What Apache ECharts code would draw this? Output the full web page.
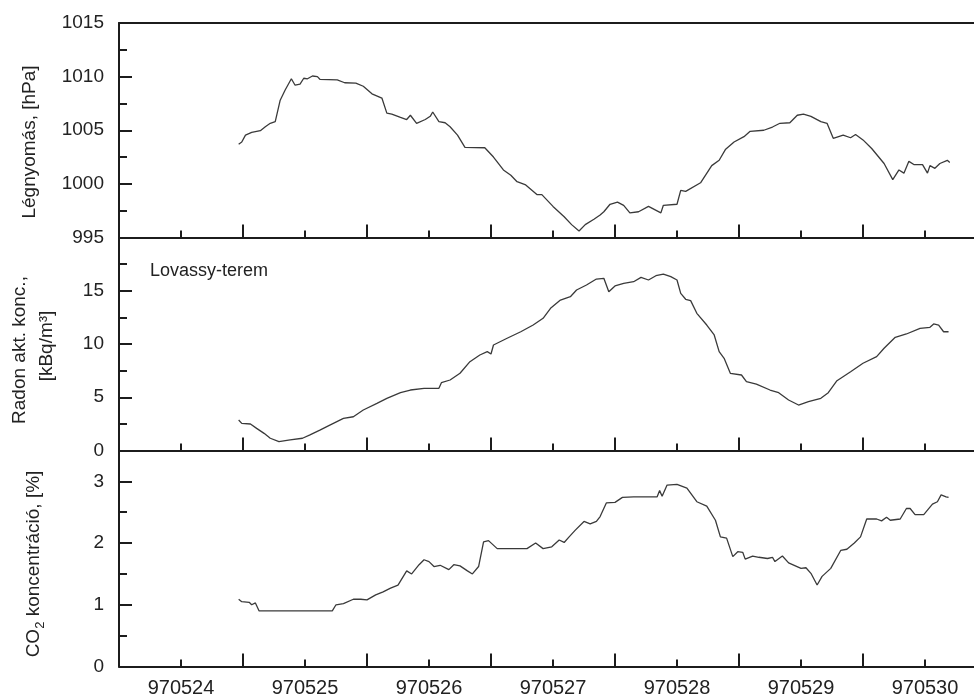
<!DOCTYPE html>
<html><head><meta charset="utf-8">
<script src="https://cdn.jsdelivr.net/npm/echarts@6/dist/echarts.min.js"></script>
<style>html,body{margin:0;padding:0;background:#fff}#c{width:974px;height:698px}</style>
</head><body><div id="c"></div>
<script>
// x values: day of May 1997 (label 9705dd centred at dd + 0.5)
const dayLabels = ['970524','970525','970526','970527','970528','970529','970530'];

const pTime = [24.965,24.99,25.02,25.07,25.14,25.18,25.22,25.26,25.30,25.34,25.39,25.42,25.46,25.49,25.52,25.56,25.60,25.62,25.76,25.82,25.91,25.97,26.04,26.12,26.16,26.20,26.27,26.32,26.35,26.40,26.47,26.51,26.53,26.58,26.63,26.67,26.73,26.79,26.95,27.02,27.10,27.16,27.21,27.28,27.37,27.41,27.50,27.59,27.65,27.71,27.76,27.83,27.88,27.91,27.96,28.02,28.07,28.12,28.19,28.27,28.37,28.39,28.50,28.53,28.57,28.69,28.78,28.84,28.89,28.96,29.04,29.09,29.20,29.27,29.33,29.41,29.47,29.52,29.58,29.66,29.71,29.76,29.84,29.90,29.94,30.00,30.07,30.17,30.24,30.29,30.33,30.37,30.41,30.48,30.52,30.54,30.58,30.62,30.68,30.70];
const pressure = [1003.7,1003.9,1004.55,1004.8,1004.96,1005.33,1005.65,1005.8,1007.8,1008.75,1009.8,1009.2,1009.3,1009.85,1009.8,1010.06,1010.0,1009.75,1009.7,1009.43,1009.4,1009.1,1008.4,1008.0,1006.6,1006.5,1006.2,1006.0,1006.4,1005.65,1006.0,1006.3,1006.7,1005.8,1005.7,1005.33,1004.55,1003.4,1003.37,1002.5,1001.3,1000.8,1000.2,999.9,999.0,999.0,997.9,996.94,996.2,995.6,996.2,996.7,997.1,997.4,998.1,998.3,998.0,997.3,997.4,997.9,997.3,998.0,998.1,999.4,999.3,1000.1,1001.7,1002.2,1003.2,1003.9,1004.4,1004.9,1005.0,1005.3,1005.65,1005.7,1006.4,1006.5,1006.3,1005.8,1005.65,1004.25,1004.55,1004.3,1004.6,1004.1,1003.3,1001.9,1000.4,1001.3,1001.0,1002.1,1001.8,1001.8,1001.0,1001.7,1001.45,1001.9,1002.2,1002.0];

const rTime = [24.965,24.99,25.06,25.11,25.17,25.22,25.29,25.38,25.48,25.54,25.62,25.70,25.81,25.89,25.97,26.08,26.16,26.27,26.35,26.46,26.58,26.60,26.67,26.75,26.83,26.91,26.97,27.00,27.02,27.13,27.24,27.34,27.42,27.48,27.56,27.64,27.69,27.77,27.85,27.91,27.95,28.00,28.07,28.15,28.21,28.27,28.33,28.39,28.45,28.50,28.53,28.57,28.61,28.66,28.74,28.80,28.84,28.88,28.93,29.02,29.06,29.14,29.25,29.32,29.40,29.48,29.56,29.66,29.72,29.79,29.90,30.00,30.11,30.17,30.26,30.35,30.46,30.54,30.57,30.61,30.65,30.69];
const radon = [2.86,2.55,2.49,2.08,1.61,1.15,0.83,0.99,1.15,1.46,1.92,2.39,3.02,3.17,3.80,4.43,4.90,5.43,5.68,5.84,5.84,6.37,6.62,7.25,8.34,8.97,9.28,9.06,9.91,10.54,11.15,11.78,12.41,13.35,14.13,14.44,15.07,15.54,16.1,16.17,14.91,15.45,15.70,15.85,16.26,16.01,16.41,16.57,16.32,16.01,14.76,14.20,14.07,12.88,11.78,10.85,9.28,8.66,7.25,7.09,6.46,6.24,5.68,5.43,4.74,4.27,4.58,4.90,5.43,6.55,7.40,8.19,8.81,9.60,10.63,10.94,11.47,11.57,11.88,11.78,11.15,11.15];

const cTime = [24.965,24.99,25.05,25.07,25.10,25.13,25.72,25.75,25.81,25.89,25.95,26.00,26.07,26.13,26.19,26.25,26.32,26.36,26.42,26.46,26.50,26.54,26.59,26.66,26.70,26.75,26.81,26.85,26.90,26.94,26.98,27.05,27.29,27.36,27.42,27.49,27.55,27.59,27.63,27.68,27.75,27.80,27.85,27.88,27.93,28.00,28.06,28.15,28.34,28.36,28.38,28.42,28.50,28.58,28.66,28.74,28.81,28.85,28.90,28.95,28.99,29.03,29.05,29.11,29.16,29.23,29.27,29.29,29.35,29.40,29.50,29.54,29.58,29.63,29.67,29.74,29.82,29.87,29.93,29.98,30.03,30.11,30.15,30.19,30.22,30.30,30.35,30.38,30.42,30.49,30.56,30.60,30.63,30.67,30.69];
const co2 = [1.09,1.05,1.04,1.00,1.03,0.90,0.90,1.00,1.02,1.09,1.09,1.08,1.16,1.21,1.27,1.32,1.55,1.50,1.65,1.73,1.70,1.62,1.64,1.57,1.65,1.63,1.55,1.50,1.62,2.02,2.04,1.91,1.91,2.00,1.91,1.94,2.05,2.01,2.10,2.21,2.35,2.31,2.35,2.43,2.65,2.66,2.74,2.75,2.75,2.85,2.76,2.94,2.95,2.89,2.67,2.60,2.37,2.10,2.08,1.78,1.86,1.85,1.74,1.79,1.77,1.75,1.77,1.70,1.79,1.68,1.59,1.60,1.51,1.32,1.46,1.59,1.88,1.90,2.00,2.10,2.39,2.39,2.36,2.42,2.37,2.39,2.56,2.56,2.46,2.46,2.63,2.67,2.78,2.75,2.74];

const pressureTicks = {min: 995, max: 1015, step: 5};
const radonTicks = {min: 0, max: 20, step: 5};
const co2Ticks = {min: 0, max: 3.5, step: 1, minorStep: 0.5};

const zip = (xs, ys) => xs.map((x, i) => [x, ys[i]]);
const FONT = 'Liberation Sans, Arial, sans-serif';
const INK = '#1c1c1c';
const TXT = '#222';

const grids = [
  {left: 119, right: -13, top: 23, height: 214.5},
  {left: 119, right: -13, top: 237.5, height: 213},
  {left: 119, right: -13, top: 450.5, height: 216}
].map(g => Object.assign(g, {containLabel: false, outerBoundsMode: 'none'}));

function tickX(gridIndex) {
  return {
    type: 'value', gridIndex, position: 'bottom', min: 24, max: 31, interval: 1,
    axisLine: {show: true, onZero: false, lineStyle: {color: INK, width: 2}},
    axisTick: {show: true, inside: true, length: 13, lineStyle: {color: INK, width: 2}},
    minorTick: {show: true, splitNumber: 2, length: 7, lineStyle: {color: INK, width: 2}},
    axisLabel: {show: false}, splitLine: {show: false}
  };
}

const xAxes = [
  tickX(0),
  {type: 'value', gridIndex: 0, position: 'top', min: 24, max: 31,
   axisLine: {show: true, onZero: false, lineStyle: {color: INK, width: 2}},
   axisTick: {show: false}, axisLabel: {show: false}, splitLine: {show: false}},
  tickX(1),
  tickX(2),
  {type: 'value', gridIndex: 2, position: 'bottom', min: 24, max: 31, interval: 0.5,
   axisLine: {show: false, onZero: false}, axisTick: {show: false}, splitLine: {show: false},
   axisLabel: {show: true, margin: 12, color: TXT, fontFamily: FONT, fontSize: 20,
     formatter: v => (Math.abs(v % 1 - 0.5) < 1e-6) ? (dayLabels[Math.floor(v) - 24] || '') : ''}}
];

function yAx(gridIndex, t, fmt, minor) {
  return {
    type: 'value', gridIndex, position: 'left', min: t.min, max: t.max, interval: t.step,
    axisLine: {show: true, onZero: false, lineStyle: {color: INK, width: 2}},
    axisTick: {show: true, inside: true, length: 13, lineStyle: {color: INK, width: 2}},
    minorTick: {show: minor, splitNumber: 2, length: 8, lineStyle: {color: INK, width: 2}},
    splitLine: {show: false},
    axisLabel: {show: true, margin: 15, color: TXT, fontFamily: FONT, fontSize: 19,
      padding: [0, 0, 5, 0], formatter: fmt}
  };
}

const yAxes = [
  yAx(0, pressureTicks, v => String(v), true),
  yAx(1, radonTicks, v => (v === radonTicks.max ? '' : String(v)), true),
  yAx(2, co2Ticks, v => (Math.abs(v % 1) < 1e-6 ? String(v) : ''), false),
  {type: 'value', gridIndex: 2, position: 'left', min: co2Ticks.min, max: co2Ticks.max, interval: co2Ticks.minorStep,
   axisLine: {show: false, onZero: false},
   axisTick: {show: true, inside: true, length: 8, lineStyle: {color: INK, width: 2}},
   axisLabel: {show: false}, splitLine: {show: false}}
];

const lineStyle = {color: '#3a3a3a', width: 1.3};
const series = [
  {type: 'line', xAxisIndex: 0, yAxisIndex: 0, data: zip(pTime, pressure)},
  {type: 'line', xAxisIndex: 2, yAxisIndex: 1, data: zip(rTime, radon)},
  {type: 'line', xAxisIndex: 3, yAxisIndex: 2, data: zip(cTime, co2)}
].map(s => Object.assign(s, {showSymbol: false, symbol: 'none', lineStyle, silent: true, animation: false}));

const tStyle = (text, extra) => Object.assign({text, font: '19px ' + FONT, fill: TXT, align: 'center', verticalAlign: 'middle'}, extra || {});
const graphic = [
  {type: 'text', x: 30, y: 142, rotation: Math.PI / 2, style: tStyle('Légnyomás, [hPa]')},
  {type: 'text', x: 20, y: 350, rotation: Math.PI / 2, style: tStyle('Radon akt. konc.,')},
  {type: 'text', x: 47, y: 346, rotation: Math.PI / 2, style: tStyle('[kBq/m³]')},
  {type: 'text', x: 34, y: 564, rotation: Math.PI / 2, style: tStyle('{n|CO}{s|2}{n| koncentráció, [%]}', {
    rich: {
      n: {fontSize: 19, fontFamily: FONT, fill: TXT, lineHeight: 26, verticalAlign: 'middle'},
      s: {fontSize: 13, fontFamily: FONT, fill: TXT, lineHeight: 14, verticalAlign: 'bottom'}
    }})},
  {type: 'text', x: 150, y: 271, style: {text: 'Lovassy-terem', font: '18px ' + FONT, fill: TXT, align: 'left', verticalAlign: 'middle'}}
];

const chart = echarts.init(document.getElementById('c'), null, {renderer: 'canvas'});
chart.setOption({
  animation: false,
  backgroundColor: '#fff',
  grid: grids,
  xAxis: xAxes,
  yAxis: yAxes,
  series,
  graphic
});
</script>
</body></html>
